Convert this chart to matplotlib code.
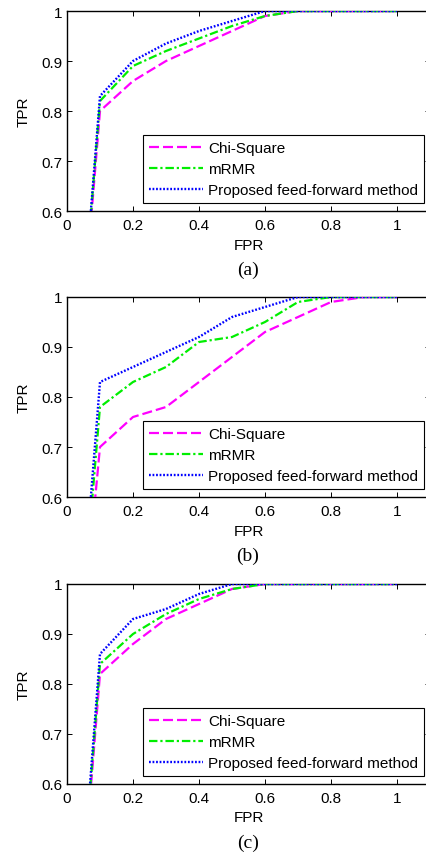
import numpy as np
import matplotlib.pyplot as plt

# FPR grid shared by every curve
fpr = [0, 0.1, 0.2, 0.3, 0.4, 0.5, 0.6, 0.7, 0.8, 0.9, 1.0]

# (a)
chi_a = [0, 0.80, 0.86, 0.90, 0.93, 0.96, 0.99, 1.0, 1.0, 1.0, 1.0]
mrmr_a = [0, 0.82, 0.89, 0.92, 0.945, 0.97, 0.99, 1.0, 1.0, 1.0, 1.0]
prop_a = [0, 0.83, 0.90, 0.935, 0.96, 0.98, 1.0, 1.0, 1.0, 1.0, 1.0]

# (b)
chi_b = [0, 0.70, 0.76, 0.78, 0.83, 0.88, 0.93, 0.96, 0.99, 1.0, 1.0]
mrmr_b = [0, 0.78, 0.83, 0.86, 0.91, 0.92, 0.95, 0.99, 1.0, 1.0, 1.0]
prop_b = [0, 0.83, 0.86, 0.89, 0.92, 0.96, 0.98, 1.0, 1.0, 1.0, 1.0]

# (c)
chi_c = [0, 0.82, 0.88, 0.93, 0.96, 0.99, 1.0, 1.0, 1.0, 1.0, 1.0]
mrmr_c = [0, 0.84, 0.90, 0.94, 0.97, 0.99, 1.0, 1.0, 1.0, 1.0, 1.0]
prop_c = [0, 0.86, 0.93, 0.95, 0.98, 1.0, 1.0, 1.0, 1.0, 1.0, 1.0]

names = ['Chi-Square', 'mRMR', 'Proposed feed-forward method']
panels = ['(a)', '(b)', '(c)']
xticks = [0, 0.2, 0.4, 0.6, 0.8, 1.0]
xlabels = ['0', '0.2', '0.4', '0.6', '0.8', '1']
yticks = [0.6, 0.7, 0.8, 0.9, 1.0]
ylabels = ['0.6', '0.7', '0.8', '0.9', '1']

data = [(chi_a, mrmr_a, prop_a), (chi_b, mrmr_b, prop_b), (chi_c, mrmr_c, prop_c)]

plt.rcParams['font.family'] = ['Liberation Sans', 'DejaVu Sans']

fig = plt.figure(figsize=(4.27, 8.54), dpi=100)

# axes tops in pixels (from the top of the image)
tops = [12, 298, 585]
W, H = 427., 854.

for i, (chi, mrmr, prop) in enumerate(data):
    top = tops[i]
    ax = fig.add_axes([67 / W, (H - top - 200) / H, 363 / W, 200 / H])
    ax.plot(fpr, chi, color='#FF00FF', ls=(0, (4.5, 1.8)), lw=1.6, label=names[0], zorder=3)
    ax.plot(fpr, mrmr, color='#00EE00', ls=(0, (3.8, 1.3, 1.0, 1.3)), lw=1.6, label=names[1], zorder=3)
    ax.plot(fpr, prop, color='#0000FF', ls=(0, (0.75, 0.75)), lw=1.7, label=names[2], zorder=3)

    ax.set_xlim(0, 1.1)
    ax.set_ylim(0.6, 1.0)
    ax.set_xticks(xticks)
    ax.set_xticklabels(xlabels)
    ax.set_yticks(yticks)
    ax.set_yticklabels(ylabels)
    ax.tick_params(direction='in', top=True, right=True, length=3.5, width=0.7,
                   labelsize=11)
    ax.tick_params(axis='x', pad=5)
    ax.tick_params(axis='y', pad=3)
    for s in ax.spines.values():
        s.set_linewidth(1.0)

    ax.set_xlabel('FPR', fontsize=11, labelpad=4)
    ax.set_ylabel('TPR', fontsize=11, labelpad=8)

    leg = ax.legend(loc='lower right', bbox_to_anchor=(0.984, 0.04), fontsize=11,
                    fancybox=False, framealpha=1, edgecolor='black',
                    handlelength=3.5, handletextpad=0.35, labelspacing=0.45,
                    borderpad=0.4, borderaxespad=0)
    leg.get_frame().set_linewidth(0.8)

    fig.text(248 / W, 1 - (top + 258) / H, panels[i], ha='center', va='center',
             fontsize=14, family='Liberation Serif')

plt.savefig('out.png', dpi=100)
